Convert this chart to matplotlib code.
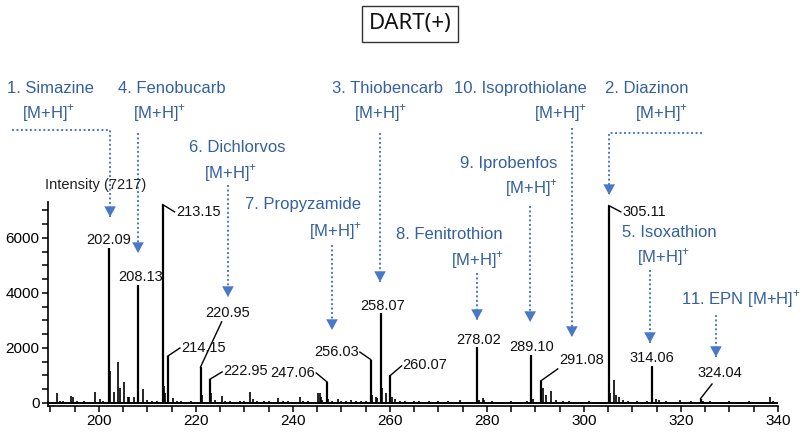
import matplotlib.pyplot as plt
from matplotlib.ticker import MultipleLocator

plt.rcParams['font.family'] = ['Liberation Sans', 'DejaVu Sans']
plt.rcParams['mathtext.fontset'] = 'custom'
plt.rcParams['mathtext.rm'] = 'Liberation Sans'

# labelled peaks (m/z, intensity)
peak_mz = [202.09, 208.13, 213.15, 214.15, 220.95, 222.95, 247.06, 256.03,
           258.07, 260.07, 278.02, 289.10, 291.08, 305.11, 314.06, 324.04]
peak_int = [5650, 4290, 7217, 1700, 1310, 870, 760, 1580,
            3280, 1000, 2050, 1750, 800, 7180, 1330, 160]

# unlabelled peaks / baseline noise
minor_mz = [191.3, 192.0, 192.5, 194.2, 194.6, 195.5, 197.0, 199.2, 200.3, 200.8,
            202.3, 203.1, 204.0, 204.3, 205.2, 206.0, 206.3, 207.3, 209.1, 210.0,
            211.0, 212.0, 213.4, 213.6, 215.2, 216.0, 217.0, 218.0, 219.0, 221.2,
            223.2, 224.0, 225.3, 226.0, 227.0, 228.0, 229.0, 230.0, 231.1, 231.8,
            232.5, 234.0, 235.0, 237.0, 238.0, 239.0, 241.4, 242.0, 243.0, 245.2,
            245.5, 245.8, 246.0, 247.3, 248.0, 249.3, 250.0, 251.0, 252.0, 253.0,
            254.0, 255.0, 256.3, 257.1, 257.4, 258.3, 259.1, 260.4, 261.1, 262.0,
            263.0, 264.0, 265.0, 266.0, 268.0, 270.0, 272.0, 274.4, 276.0, 278.3,
            279.1, 279.4, 281.0, 283.0, 285.0, 287.0, 288.2, 289.0, 289.5, 291.5,
            292.1, 293.3, 294.3, 295.6, 297.0, 299.0, 301.0, 303.0, 305.4, 306.2,
            306.7, 307.3, 308.0, 309.0, 311.0, 313.0, 314.8, 315.5, 317.0, 319.8,
            322.0, 324.5, 326.0, 328.0, 330.0, 332.0, 334.0, 336.0, 338.4, 339.0]
minor_int = [375, 80, 60, 250, 200, 80, 60, 410, 150, 60,
             1150, 400, 1500, 540, 750, 200, 200, 230, 500, 100,
             80, 60, 600, 350, 180, 80, 60, 50, 60, 300,
             350, 100, 250, 80, 60, 50, 80, 60, 410, 150,
             60, 80, 60, 170, 80, 60, 230, 80, 60, 350,
             350, 200, 120, 150, 80, 150, 60, 80, 120, 60,
             80, 60, 300, 230, 180, 550, 350, 200, 150, 80,
             60, 50, 80, 60, 60, 80, 60, 100, 50, 120,
             170, 120, 60, 50, 60, 50, 80, 1380, 150, 540,
             300, 440, 100, 80, 60, 50, 60, 50, 350, 840,
             290, 230, 100, 60, 80, 60, 150, 100, 60, 100,
             60, 80, 60, 50, 60, 50, 60, 50, 230, 60]

max_int = 7217
compounds = ['1. Simazine', '4. Fenobucarb', '6. Dichlorvos', '7. Propyzamide',
             '3. Thiobencarb', '8. Fenitrothion', '9. Iprobenfos',
             '10. Isoprothiolane', '2. Diazinon', '5. Isoxathion', '11. EPN']
ion = '[M+H]$^{+}$'

# --- layout (data coordinates) ---
# peak label: text position, alignment, end of leader line (None = no leader)
label_layout = [
    (202.1, 5910, 'center', None),
    (208.5, 4580, 'center', None),
    (216.0, 6945, 'left', (215.6, 6950)),
    (217.0, 2000, 'left', (216.7, 2000)),
    (226.6, 3272, 'center', (225.3, 2950)),
    (225.7, 1163, 'left', (225.4, 1130)),
    (244.6, 1090, 'right', (244.8, 1090)),
    (253.6, 1854, 'right', (253.8, 1850)),
    (258.4, 3527, 'center', None),
    (262.6, 1381, 'left', (262.4, 1350)),
    (278.2, 2290, 'center', None),
    (289.3, 2036, 'center', None),
    (294.8, 1563, 'left', (294.6, 1240)),
    (308.0, 6945, 'left', (307.6, 6950)),
    (314.0, 1636, 'center', None),
    (328.0, 1090, 'center', (326.4, 690)),
]

# compound annotation: name position, ion position, dotted path (ends at arrow tip)
ann_layout = [
    ((190.0, 11454), (189.7, 10545), [(182.1, 9927), (202.3, 9927), (202.3, 6763)]),
    ((215.0, 11454), (212.6, 10545), [(208.06, 9818), (208.06, 5454)]),
    ((228.5, 9309), (227.2, 8363), [(226.6, 7927), (226.6, 3854)]),
    ((242.1, 7236), (248.7, 6254), [(248.05, 5745), (248.05, 2654)]),
    ((259.5, 11454), (258.1, 10545), [(257.95, 9818), (257.95, 4400)]),
    ((272.3, 6145), (278.0, 5200), [(277.95, 4727), (277.95, 3018)]),
    ((284.55, 8727), (289.3, 7818), [(288.9, 7163), (288.9, 2945)]),
    ((286.8, 11454), (295.1, 10545), [(297.5, 10000), (297.5, 2400)]),
    ((312.9, 11454), (316.1, 10545), [(324.3, 9818), (305.2, 9818), (305.2, 7563)]),
    ((317.6, 6218), (316.5, 5309), [(313.6, 4836), (313.6, 2182)]),
    ((332.3, 3782), None, [(327.2, 3200), (327.2, 1673)]),
]

text_blue = '#34609f'
line_blue = '#4a78c8'

fig = plt.figure(figsize=(8.1, 4.36), dpi=100)
ax = fig.add_axes([48 / 810, 30 / 436, 730 / 810, 204.3 / 436])

ax.axhline(0, color='black', lw=1.4)
ax.vlines(minor_mz, 0, minor_int, color='black', lw=1.2)
ax.vlines(peak_mz, 0, peak_int, color='black', lw=1.6)

for mz, inten, (tx, ty, ha, lead) in zip(peak_mz, peak_int, label_layout):
    ax.text(tx, ty, '%.2f' % mz, ha=ha, va='center', fontsize=10.5, color='#111')
    if lead is not None:
        ax.plot([mz, lead[0]], [inten, lead[1]], color='black', lw=1)

for name, (nxy, ixy, path) in zip(compounds, ann_layout):
    label = name + ' ' + ion if ixy is None else name
    ax.text(nxy[0], nxy[1], label, ha='center', va='center', fontsize=12,
            color=text_blue, clip_on=False)
    if ixy is not None:
        ax.text(ixy[0], ixy[1], ion, ha='center', va='center', fontsize=12,
                color=text_blue, clip_on=False)
    xs = [p[0] for p in path]
    ys = [p[1] for p in path]
    ax.plot(xs, ys, color=line_blue, lw=1.4, ls=(0, (1, 1.3)), clip_on=False)
    ax.annotate('', xy=path[-1], xytext=(0, 7), textcoords='offset points',
                arrowprops=dict(arrowstyle='-|>,head_length=0.55,head_width=0.3',
                                color=line_blue, lw=0, shrinkA=0, shrinkB=0,
                                mutation_scale=14),
                annotation_clip=False)

ax.set_xlim(189.5, 340)
ax.set_ylim(-110, 7320)
for side in ['top', 'right']:
    ax.spines[side].set_visible(False)
for side in ['left', 'bottom']:
    ax.spines[side].set_linewidth(1.2)
ax.xaxis.set_major_locator(MultipleLocator(20))
ax.xaxis.set_minor_locator(MultipleLocator(5))
ax.yaxis.set_major_locator(MultipleLocator(2000))
ax.yaxis.set_minor_locator(MultipleLocator(500))
ax.tick_params(which='both', direction='out', width=1.1, labelsize=11)
ax.tick_params(which='major', length=4, pad=2)
ax.tick_params(which='minor', length=4)

fig.text(45 / 810, 1 - 185 / 436, 'Intensity (%d)' % max_int, va='center',
         fontsize=10.5, color='#222')
fig.text(410 / 810, 1 - 24 / 436, 'DART(+)', ha='center', va='center',
         fontsize=16, family='Noto Sans', weight='medium', color='#111',
         bbox=dict(boxstyle='square,pad=0.32', fc='white', ec='#333', lw=1))

fig.savefig('out.png', dpi=100)
